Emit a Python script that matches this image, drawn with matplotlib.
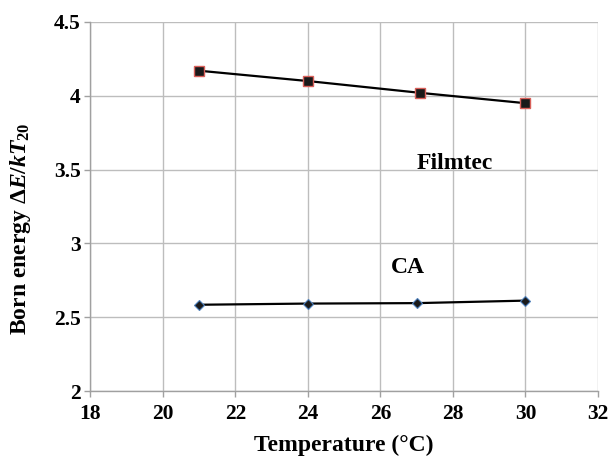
import matplotlib.pyplot as plt

plt.rcParams['font.family'] = 'Liberation Serif'
plt.rcParams['font.weight'] = 'bold'
plt.rcParams['mathtext.fontset'] = 'custom'
plt.rcParams['mathtext.rm'] = 'Liberation Serif:bold'
plt.rcParams['mathtext.it'] = 'Liberation Serif:italic:bold'
plt.rcParams['mathtext.bf'] = 'Liberation Serif:bold'

# Data
filmtec_temp = [21, 24, 27.1, 30]
filmtec_energy = [4.17, 4.10, 4.02, 3.95]
ca_temp = [21, 24, 27, 30]
ca_energy = [2.585, 2.593, 2.596, 2.613]

x_ticks = [18, 20, 22, 24, 26, 28, 30, 32]
y_ticks = [2, 2.5, 3, 3.5, 4, 4.5]
y_labels = ['2', '2.5', '3', '3.5', '4', '4.5']

fig = plt.figure(figsize=(6.14, 4.58), dpi=100)
ax = fig.add_axes([0.147, 0.146, 0.827, 0.806])

ax.plot(filmtec_temp, filmtec_energy, color='black', linewidth=1.6,
        marker='s', markersize=6.5, markerfacecolor='#1a1a1a',
        markeredgecolor='#d9605a', markeredgewidth=1.0, zorder=3)
ax.plot(ca_temp, ca_energy, color='black', linewidth=1.6,
        marker='D', markersize=5, markerfacecolor='#1a1a1a',
        markeredgecolor='#4f81bd', markeredgewidth=0.8, zorder=3)

ax.text(27.0, 3.54, 'Filmtec', fontsize=17, fontweight='bold', va='center')
ax.text(26.3, 2.84, 'CA', fontsize=17, fontweight='bold', va='center')

ax.set_xlim(18, 32)
ax.set_ylim(2, 4.5)
ax.set_xticks(x_ticks)
ax.set_yticks(y_ticks)
ax.set_yticklabels(y_labels)
ax.tick_params(axis='both', labelsize=15.5, direction='out', length=4,
               color='#a0a0a0', width=1)
ax.tick_params(axis='x', pad=5)
ax.tick_params(axis='y', pad=3)

ax.grid(True, color='#bdbdbd', linewidth=1)
ax.set_axisbelow(True)
for side in ['top', 'right']:
    ax.spines[side].set_visible(False)
for side in ['left', 'bottom']:
    ax.spines[side].set_color('#a0a0a0')
    ax.spines[side].set_linewidth(1)

ax.set_xlabel('Temperature (°C)', fontsize=17, fontweight='bold', labelpad=8)
ax.set_ylabel(r'Born energy $\Delta E/kT_{20}$', fontsize=17,
              fontweight='bold')
ax.yaxis.set_label_coords(-0.112, 0.44)

plt.savefig('out.png', dpi=100)
